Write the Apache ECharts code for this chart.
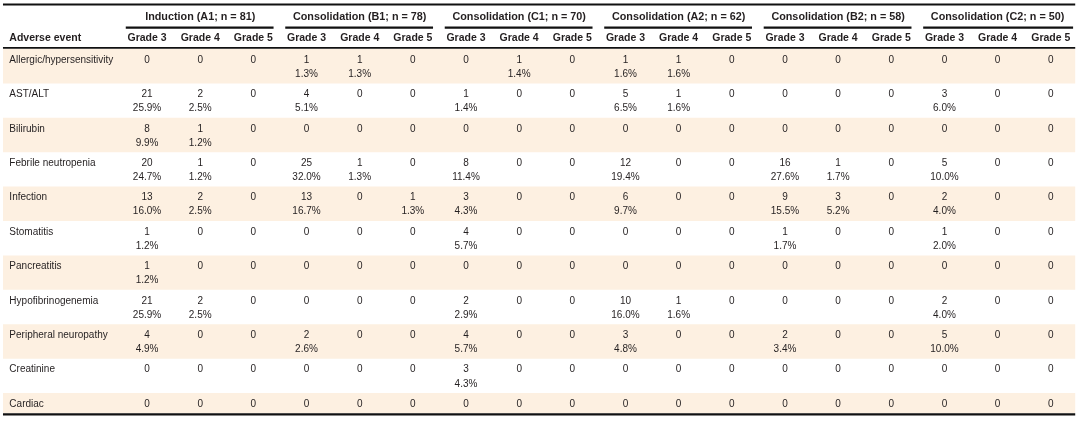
<!DOCTYPE html>
<html>
<head>
<meta charset="utf-8">
<script src="https://cdn.jsdelivr.net/npm/echarts@6/dist/echarts.min.js"></script>
<style>
  html, body { margin: 0; padding: 0; background: #fff; }
  #main { width: 1080px; height: 421px; }
</style>
</head>
<body>
<div id="main"></div>
<script>
// table content
const groups = ['Induction (A1; n = 81)', 'Consolidation (B1; n = 78)', 'Consolidation (C1; n = 70)',
  'Consolidation (A2; n = 62)', 'Consolidation (B2; n = 58)', 'Consolidation (C2; n = 50)']
const grades = ['Grade 3', 'Grade 4', 'Grade 5']
const events = ['Allergic/hypersensitivity', 'AST/ALT', 'Bilirubin', 'Febrile neutropenia', 'Infection',
  'Stomatitis', 'Pancreatitis', 'Hypofibrinogenemia', 'Peripheral neuropathy', 'Creatinine', 'Cardiac']

// counts per event, columns A1 g3..g5, B1, C1, A2, B2, C2
const counts = [
  [0, 0, 0, 1, 1, 0, 0, 1, 0, 1, 1, 0, 0, 0, 0, 0, 0, 0],
  [21, 2, 0, 4, 0, 0, 1, 0, 0, 5, 1, 0, 0, 0, 0, 3, 0, 0],
  [8, 1, 0, 0, 0, 0, 0, 0, 0, 0, 0, 0, 0, 0, 0, 0, 0, 0],
  [20, 1, 0, 25, 1, 0, 8, 0, 0, 12, 0, 0, 16, 1, 0, 5, 0, 0],
  [13, 2, 0, 13, 0, 1, 3, 0, 0, 6, 0, 0, 9, 3, 0, 2, 0, 0],
  [1, 0, 0, 0, 0, 0, 4, 0, 0, 0, 0, 0, 1, 0, 0, 1, 0, 0],
  [1, 0, 0, 0, 0, 0, 0, 0, 0, 0, 0, 0, 0, 0, 0, 0, 0, 0],
  [21, 2, 0, 0, 0, 0, 2, 0, 0, 10, 1, 0, 0, 0, 0, 2, 0, 0],
  [4, 0, 0, 2, 0, 0, 4, 0, 0, 3, 0, 0, 2, 0, 0, 5, 0, 0],
  [0, 0, 0, 0, 0, 0, 3, 0, 0, 0, 0, 0, 0, 0, 0, 0, 0, 0],
  [0, 0, 0, 0, 0, 0, 0, 0, 0, 0, 0, 0, 0, 0, 0, 0, 0, 0]
]
// percentages as printed ('' = none)
const pcts = [
  ['', '', '', '1.3%', '1.3%', '', '', '1.4%', '', '1.6%', '1.6%', '', '', '', '', '', '', ''],
  ['25.9%', '2.5%', '', '5.1%', '', '', '1.4%', '', '', '6.5%', '1.6%', '', '', '', '', '6.0%', '', ''],
  ['9.9%', '1.2%', '', '', '', '', '', '', '', '', '', '', '', '', '', '', '', ''],
  ['24.7%', '1.2%', '', '32.0%', '1.3%', '', '11.4%', '', '', '19.4%', '', '', '27.6%', '1.7%', '', '10.0%', '', ''],
  ['16.0%', '2.5%', '', '16.7%', '', '1.3%', '4.3%', '', '', '9.7%', '', '', '15.5%', '5.2%', '', '4.0%', '', ''],
  ['1.2%', '', '', '', '', '', '5.7%', '', '', '', '', '', '1.7%', '', '', '2.0%', '', ''],
  ['1.2%', '', '', '', '', '', '', '', '', '', '', '', '', '', '', '', '', ''],
  ['25.9%', '2.5%', '', '', '', '', '2.9%', '', '', '16.0%', '1.6%', '', '', '', '', '4.0%', '', ''],
  ['4.9%', '', '', '2.6%', '', '', '5.7%', '', '', '4.8%', '', '', '3.4%', '', '', '10.0%', '', ''],
  ['', '', '', '', '', '', '4.3%', '', '', '', '', '', '', '', '', '', '', ''],
  ['', '', '', '', '', '', '', '', '', '', '', '', '', '', '', '', '', '']
]

const FONT = '"Liberation Sans", Arial, Helvetica, sans-serif'
const INK = '#231f20'
const BAND = '#fdf0e1'
const X0 = -2.71, X1 = 17.46   // table edges in column units
const LABEL_X = -2.59

// rows with a percentage line are full height, others shorter
const rowTop = []
let acc = 0
events.forEach((e, i) => {
  rowTop.push(acc)
  acc += pcts[i].some(p => p) ? 1 : 0.58
})
const yMax = acc
const rowH = i => (i + 1 < events.length ? rowTop[i + 1] : yMax) - rowTop[i]

function txt(pt, text, font, align) {
  return {
    type: 'text', x: pt[0], y: pt[1],
    style: {
      text: text, fill: INK, font: (font || '10px') + ' ' + FONT,
      align: align || 'center', verticalAlign: 'middle',
      textAlign: align || 'center', textVerticalAlign: 'middle'
    }
  }
}
function hline(api, y, a, b, w) {
  const p1 = api.coord([a, y]), p2 = api.coord([b, y])
  return { type: 'line', shape: { x1: p1[0], y1: p1[1], x2: p2[0], y2: p2[1] }, style: { stroke: '#111', lineWidth: w } }
}

const cellData = []
counts.forEach((row, r) => row.forEach((v, c) => cellData.push([c, rowTop[r], r])))
const gradeCols = []
groups.forEach((g, gi) => grades.forEach((gr, k) => gradeCols.push([gi * 3 + k, gr])))

const chart = echarts.init(document.getElementById('main'))
chart.setOption({
  animation: false,
  grid: { left: 0, right: 0, top: 4, bottom: 8 },
  xAxis: { type: 'value', min: -2.766, max: 17.55, show: false },
  yAxis: { type: 'value', inverse: true, min: -1.308, max: yMax, show: false },
  series: [
    {
      // alternating row bands
      type: 'custom', silent: true,
      data: events.map((e, i) => [i, rowTop[i]]).filter(d => d[0] % 2 === 0),
      renderItem: (params, api) => {
        const i = api.value(0)
        const a = api.coord([X0, rowTop[i]]), b = api.coord([X1, rowTop[i] + rowH(i)])
        return { type: 'rect', shape: { x: a[0], y: a[1], width: b[0] - a[0], height: b[1] - a[1] }, style: { fill: BAND } }
      }
    },
    {
      // group headings and their underlines
      type: 'custom', silent: true,
      data: groups.map((g, i) => [i * 3 + 1, -0.93]),
      renderItem: (params, api) => {
        const i = params.dataIndex
        const end = i === groups.length - 1 ? X1 - 0.04 : i * 3 + 2.38
        return {
          type: 'group', children: [
            txt(api.coord([api.value(0), api.value(1)]), groups[i], 'bold 10.8px'),
            hline(api, -0.62, i * 3 - 0.4, end, 2.2)
          ]
        }
      }
    },
    {
      // grade headings
      type: 'custom', silent: true,
      data: gradeCols.map(d => [d[0], -0.32]),
      renderItem: (params, api) => txt(api.coord([api.value(0), api.value(1)]), gradeCols[params.dataIndex][1], 'bold 10.5px')
    },
    {
      // row labels + table rules
      type: 'custom', silent: true,
      data: events.map((e, i) => [LABEL_X, rowTop[i] + 0.32]),
      renderItem: (params, api) => {
        const kids = [txt(api.coord([api.value(0), api.value(1)]), events[params.dataIndex], '10px', 'left')]
        if (params.dataIndex === 0) {
          kids.push(txt(api.coord([LABEL_X, -0.32]), 'Adverse event', 'bold 10.5px', 'left'))
          kids.push(hline(api, -1.294, X0, X1, 2))
          kids.push(hline(api, -0.03, X0, X1, 1.8))
          kids.push(hline(api, yMax + 0.04, X0, X1, 2.4))
        }
        return { type: 'group', children: kids }
      }
    },
    {
      // cell values
      type: 'custom', silent: true,
      data: cellData,
      renderItem: (params, api) => {
        const c = api.value(0), top = api.value(1), r = cellData[params.dataIndex][2]
        const kids = [txt(api.coord([c, top + 0.32]), String(counts[r][c]))]
        if (pcts[r][c]) kids.push(txt(api.coord([c, top + 0.73]), pcts[r][c]))
        return { type: 'group', children: kids }
      }
    }
  ]
})
</script>
</body>
</html>
